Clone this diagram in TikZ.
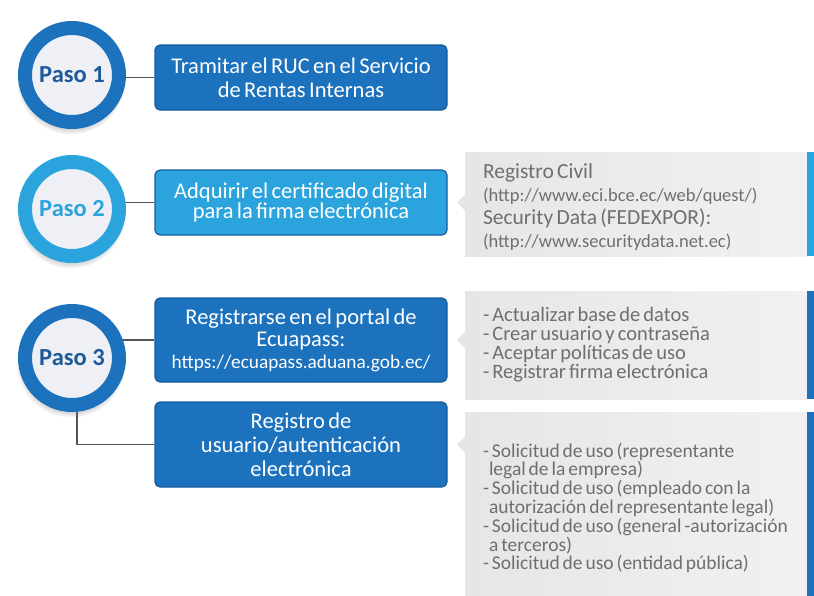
\documentclass[tikz,border=0pt]{standalone}
\usepackage{fontspec}
\setmainfont{Carlito}
\usetikzlibrary{shadows,backgrounds}

\definecolor{pasoblue}{HTML}{1C72BD}
\definecolor{pasocyan}{HTML}{2BA3DC}
\definecolor{pasoedge}{HTML}{165C9C}
\definecolor{pasodisc}{HTML}{EEF0F6}
\definecolor{pasotext}{HTML}{1D5A98}
\definecolor{infogray}{HTML}{E6E6E8}
\definecolor{infolight}{HTML}{F1F1F3}
\definecolor{infotext}{HTML}{6F6F72}
\definecolor{wireline}{HTML}{555555}

% narrow word spaces
\newcommand{\tightsp}{\spaceskip=.15em plus .05em\relax}

\tikzset{
  paso/.style={circle, draw=#1, line width=14pt, fill=pasodisc,
    minimum size=94pt, inner sep=0pt,
    font=\fontsize{24.5}{24}\selectfont\bfseries,
    circular drop shadow={shadow scale=1.17, shadow xshift=-1pt,
      shadow yshift=-4pt, opacity=0.45}},
  tramite/.style={draw=pasoedge, fill=#1, rounded corners=5pt,
    line width=1.2pt, text=white, minimum width=292pt, text width=288pt,
    align=flush center, inner sep=0pt},
  info/.style={left color=infogray, right color=infolight,
    minimum width=342pt, inner sep=0pt},
  infotxt/.style={anchor=west, align=left, inner sep=0pt, text=infotext},
  wire/.style={draw=wireline, line width=1.8pt}
}

\begin{document}
\begin{tikzpicture}[x=1pt, y=-1pt]
  \useasboundingbox (0,0) rectangle (814,595);

  % pasos
  \node[paso=pasoblue, text=pasotext] (p1) at (72,75) {Paso 1};
  \node[paso=pasocyan, text=pasocyan] (p2) at (72,209) {Paso 2};
  \node[paso=pasoblue, text=pasotext] (p3) at (72,358) {Paso 3};

  % tramites
  \node[tramite=pasoblue, minimum height=65pt, font=\fontsize{22.5}{24}\selectfont\tightsp]
    (b1) at (301,77.5) {Tramitar el RUC en el Servicio\\de Rentas Internas};
  \node[tramite=pasocyan, minimum height=65pt, font=\fontsize{22.5}{20.5}\selectfont\tightsp]
    (b2) at (301,202.5) {Adquirir el certificado digital\\para la firma electrónica};
  \node[tramite=pasoblue, minimum height=84pt, font=\fontsize{22.5}{22}\selectfont\tightsp]
    (b3) at (301,340) {Registrarse en el portal de\\Ecuapass:\\
      {\fontsize{19.3}{22}\selectfont https://ecuapass.aduana.gob.ec/}};
  \node[tramite=pasoblue, minimum height=85pt, font=\fontsize{22.5}{24}\selectfont\tightsp]
    (b4) at (301,444.5) {Registro de\\usuario/autenticación\\electrónica};

  % detalles
  \node[info, minimum height=104pt] (g2) at (636,204) {};
  \node[info, minimum height=108pt] (g3) at (636,345) {};
  \node[info, minimum height=183pt] (g4) at (636,504) {};

  \fill[pasocyan] (g2.north east) rectangle ([xshift=8pt]g2.south east);
  \foreach \g in {g3,g4}
    \fill[pasoblue] (\g.north east) rectangle ([xshift=8pt]\g.south east);

  \fill[infogray] (g2.west |- b2) ++(0,-8) -- ++(-8,8) -- ++(8,8) -- cycle;
  \fill[infogray] (g3.west |- b3) ++(0,-8) -- ++(-8,8) -- ++(8,8) -- cycle;
  \fill[infogray] (g4.west |- b4) ++(0,-8) -- ++(-8,8) -- ++(8,8) -- cycle;

  \node[infotxt, font=\fontsize{21.5}{23}\selectfont\tightsp]
    (t2) at ([xshift=18pt, yshift=-3pt]g2.west) {Registro Civil\\
      {\fontsize{18.5}{23}\selectfont (http://www.eci.bce.ec/web/quest/)}\\
      Security Data (FEDEXPOR):\\
      {\fontsize{18.5}{23}\selectfont (http://www.securitydata.net.ec)}};
  \node[infotxt, font=\fontsize{20.5}{19}\selectfont\tightsp]
    (t3) at ([xshift=18pt]g3.west) {- Actualizar base de datos\\- Crear usuario y contraseña\\
      - Aceptar políticas de uso\\- Registrar firma electrónica};
  \node[infotxt, font=\fontsize{19.5}{18.8}\selectfont\tightsp]
    (t4) at ([xshift=18pt, yshift=-4pt]g4.west) {- Solicitud de uso (representante\\
      \hspace*{6pt}legal de la empresa)\\
      - Solicitud de uso (empleado con la\\
      \hspace*{6pt}autorización del representante legal)\\
      - Solicitud de uso (general -autorización\\
      \hspace*{6pt}a terceros)\\
      - Solicitud de uso (entidad pública)};

  \begin{scope}[on background layer]
    \draw[wire] (p1 |- b1) -- (b1.west);
    \draw[wire] (p2 |- b2) -- (b2.west);
    \draw[wire] (p3 |- b3) -- (b3.west);
    \draw[wire] ([xshift=5pt]p3.center) |- (b4.west);
  \end{scope}
\end{tikzpicture}
\end{document}
